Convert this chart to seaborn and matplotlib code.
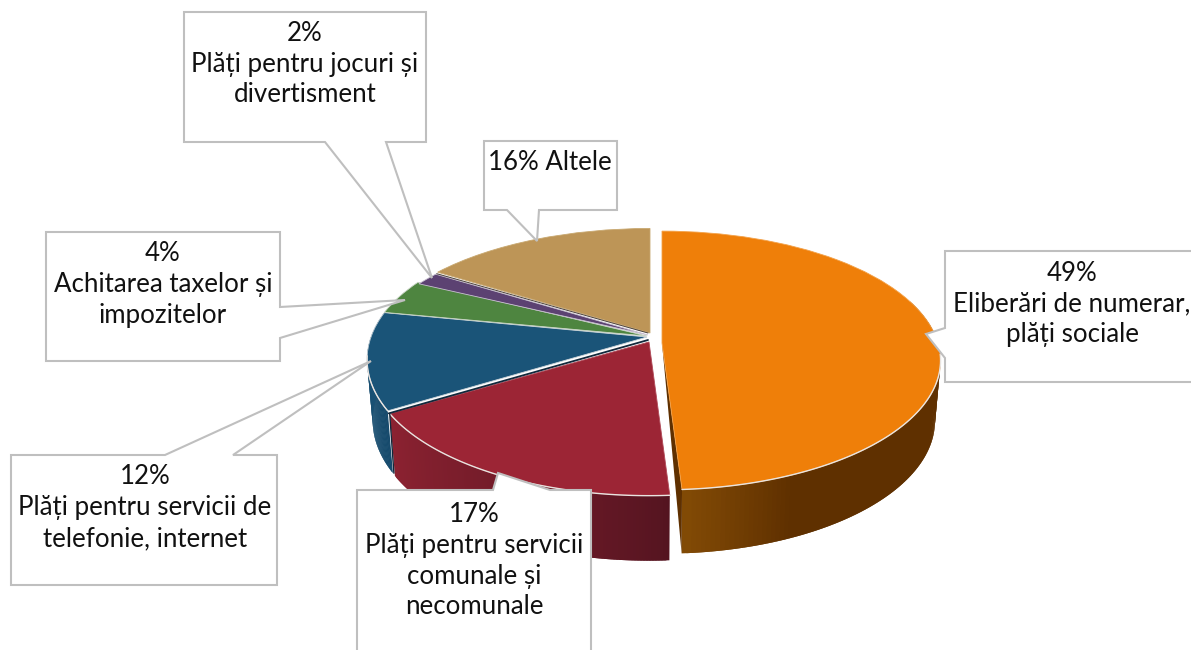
import numpy as np
import matplotlib
matplotlib.use("Agg")
import matplotlib.pyplot as plt
from matplotlib.transforms import Transform
from matplotlib.colors import to_rgb
import seaborn as sns

# ---- data ----
categories = ["Eliberări de numerar, plăți sociale",
              "Plăți pentru servicii comunale și necomunale",
              "Plăți pentru servicii de telefonie, internet",
              "Achitarea taxelor și impozitelor",
              "Plăți pentru jocuri și divertisment",
              "Altele"]
values = [49.0, 17.45, 11.6, 4.4, 1.7, 15.85]
label_lines = [["49%", "Eliberări de numerar,", "plăți sociale"],
               ["17%", "Plăți pentru servicii", "comunale și", "necomunale"],
               ["12%", "Plăți pentru servicii de", "telefonie, internet"],
               ["4%", "Achitarea taxelor și", "impozitelor"],
               ["2%", "Plăți pentru jocuri și", "divertisment"],
               ["16% Altele"]]

# ---- style ----
sns.set_theme(style="white")
plt.rcParams["font.family"] = ["Lato", "Noto Sans", "DejaVu Sans"]
colors = sns.color_palette(["#ef7f09", "#9c2535", "#1a5478", "#4e8540", "#5c4272", "#bd9557"])
edge_cols = ["#f3a24a", "#b04a58", "#c8d2d8", "#c8d4c4", "#c8c0d0", "#c8a870"]
apex = [(662, 343), (649, 342), (647, 337), (647, 336), (648, 335), (650, 333)]
proj = [(276, 127, 0.135), (276, 128, 0.167), (276, 132, 0.167),
        (276, 128, 0.167), (276, 122, 0.167), (276, 122, 0.167)]
BOX = "#bfbfbf"
RIM = "#e9e4e0"


class Perspective(Transform):
    input_dims = output_dims = 2

    def __init__(self, cx, cy, R, K, P):
        super().__init__()
        self.args = (cx, cy, R, K, P)

    def transform_non_affine(self, v):
        cx, cy, R, K, P = self.args
        v = np.asarray(v, float)
        x, y = v[:, 0], v[:, 1]
        f = 1.0 / (1.0 + P * y)
        return np.c_[cx + R * x * f, cy - K * y * f]


def rim(i, deg):
    cx, cy = apex[i]
    R, K, P = proj[i]
    a = np.radians(np.atleast_1d(deg))
    x, y = np.sin(a), np.cos(a)
    f = 1.0 / (1.0 + P * y)
    top = np.c_[cx + R * x * f, cy - K * y * f]
    depth = 35 + 25 * f
    bot = np.c_[cx + 0.98 * R * x * f, top[:, 1] + depth]
    return top, bot


def mix(c1, c2, t):
    c1, c2 = np.array(to_rgb(c1)), np.array(to_rgb(c2))
    return tuple(c1 + (c2 - c1) * np.clip(t, 0, 1))


fig = plt.figure(figsize=(11.91, 6.5), dpi=100)
ax = fig.add_axes([0, 0, 1, 1])
wedges, _ = ax.pie(values, colors=colors, startangle=90, counterclock=False,
                   wedgeprops=dict(linewidth=0.6))
ax.set_aspect("auto")
ax.set_xlim(0, 1191)
ax.set_ylim(650, 0)
ax.axis("off")

for i, (w, ec) in enumerate(zip(wedges, edge_cols)):
    w.set_transform(Perspective(*apex[i], *proj[i]) + ax.transData)
    w.set_edgecolor(ec)
    w.set_zorder(2)

edges = np.concatenate([[0], np.cumsum(values)]) / np.sum(values) * 360


def wall(i, col_fn, a0=None, a1=None):
    a0 = edges[i] if a0 is None else a0
    a1 = edges[i + 1] if a1 is None else a1
    grid = np.linspace(a0, a1, 120)
    top, bot = rim(i, grid)
    for j in range(len(grid) - 2):
        poly = np.vstack([top[j:j + 3], bot[j:j + 3][::-1]])
        ax.fill(poly[:, 0], poly[:, 1], color=col_fn((grid[j] - a0) / (a1 - a0)), lw=0, zorder=1)


wall(0, lambda t: mix("#5f3000", "#844c06", (t - 0.8) / 0.2), 70, None)
wall(1, lambda t: mix("#541420", "#8c2231", t ** 0.8))
wall(2, lambda t: mix("#164a6c", "#1a5478", t))

# cut face of the pulled-out slice
t0, b0 = rim(0, edges[1])
ax.fill([apex[0][0], t0[0, 0], b0[0, 0]], [apex[0][1], t0[0, 1], b0[0, 1]],
        color="#5f3000", lw=0, zorder=1)

# light rims on the front edges
for i, (a0, a1) in enumerate([(95, edges[1]), (edges[1], edges[2]), (edges[2], 262)]):
    tp, _ = rim(i, np.linspace(a0, a1, 80))
    ax.plot(tp[:, 0], tp[:, 1], color=RIM, lw=1.0, zorder=2.1)

# thin dark faces between neighbouring slices
tb, bb = rim(2, edges[2])
ax.plot([apex[2][0] + 1, tb[0, 0] + 1], [apex[2][1] + 3, tb[0, 1] + 2.5], color="#12293c", lw=1.3, zorder=2.2)
ax.plot([tb[0, 0] + 2, bb[0, 0] + 1], [tb[0, 1] + 3, bb[0, 1]], color="#12293c", lw=1.0, zorder=2.2)
tt, _ = rim(5, edges[5])
ax.plot([apex[5][0] - 2, tt[0, 0] - 1], [apex[5][1], tt[0, 1] + 1.5], color="#4a3f38", lw=0.7, zorder=2.2)

# callouts
outlines = [
    [(1195, 251), (945, 251), (945, 328), (926, 334), (945, 358), (945, 382), (1195, 382)],
    [(357, 660), (357, 490), (493, 490), (498, 473), (550, 490), (591, 490), (591, 660)],
    [(11, 455), (165, 455), (371, 361), (233, 455), (277, 455), (277, 585), (11, 585)],
    [(46, 232), (280, 232), (280, 307), (405, 300), (280, 338), (280, 361), (46, 361)],
    [(184, 12), (426, 12), (426, 142), (386, 142), (432, 278), (325, 142), (184, 142)],
    [(484, 141), (617, 141), (617, 210), (539, 210), (537, 241), (507, 210), (484, 210)],
]
text_x = [1072, 474, 145, 163, 305, 550]
text_y = [[273.5, 303.5, 334.5], [514.5, 545.5, 576.5, 606.5], [476.5, 507.5, 538.5],
          [253.5, 284.5, 315.5], [33.5, 64.5, 94.5], [162.5]]
for pts, lines, x, ys in zip(outlines, label_lines, text_x, text_y):
    p = np.array(pts)
    ax.fill(p[:, 0], p[:, 1], facecolor="white", edgecolor=BOX, lw=1.5, zorder=3,
            joinstyle="miter")
    for line, y in zip(lines, ys):
        ax.text(x, y, line, ha="center", va="center", fontsize=18.6, color="#111111", zorder=4)

fig.savefig("out.png", dpi=100)
